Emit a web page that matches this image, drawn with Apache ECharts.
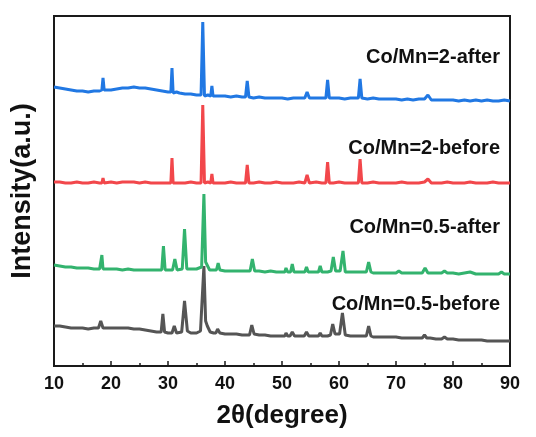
<!DOCTYPE html>
<html><head><meta charset="utf-8">
<script src="https://cdn.jsdelivr.net/npm/echarts@6/dist/echarts.min.js"></script>
<style>html,body{margin:0;padding:0;background:#fff}#c{width:536px;height:437px}</style>
</head><body><div id="c"></div>
<script>
const seriesNames = ['Co/Mn=0.5-before','Co/Mn=0.5-after','Co/Mn=2-before','Co/Mn=2-after'];
const xTicks = [10,20,30,40,50,60,70,80,90];

const co2After = [[10,279],[11,278],[12,277],[13,276],[14,275],[15,275],[16,274],[17,275],[18,275],[18.4,276],[18.6,288],[18.8,276],[19,276],[20,276],[21,277],[22,278],[23,278],[24,279],[25,278],[26,278],[27,277],[28,276],[29,275],[30,274],[30.5,274],[30.7,298],[30.9,273],[31.5,274],[32,273],[33,272],[34,272],[35,271],[35.8,271],[36.1,344],[36.4,270],[37,271],[37.5,270],[37.7,280],[37.9,270],[39,270],[40,270],[41,269],[42,270],[43,269],[43.6,269],[43.9,285],[44.2,269],[45,268],[46,269],[47,268],[48,268],[49,268],[50,268],[51,267],[52,268],[53,268],[54,268],[54.4,274],[54.8,268],[55,268],[56,268],[57,268],[57.7,268],[58.0,286],[58.3,268],[59,268],[60,268],[61,267],[62,268],[63,268],[63.4,268],[63.7,287],[64.0,268],[65,267],[66,268],[67,267],[68,267],[69,267],[70,267],[71,266],[72,267],[73,266],[74,267],[75,267],[75.6,271],[76.2,266],[77,266],[78,266],[79,266],[80,266],[81,265],[82,266],[83,265],[84,266],[85,265],[86,266],[87,265],[88,265],[89,266],[90,265]];

const co2Before = [[10,184],[11,184],[12,183],[13,183],[14,184],[15,183],[16,183],[17,184],[18,183],[18.4,183],[18.6,188],[18.8,183],[19,183],[20,184],[21,183],[22,184],[23,184],[24,184],[25,183],[26,184],[27,183],[28,183],[29,183],[30,183],[30.5,183],[30.7,208],[30.9,183],[31.5,183],[32,183],[33,183],[34,184],[35,183],[35.8,183],[36.1,261],[36.4,183],[37,184],[37.5,183],[37.7,192],[37.9,183],[39,183],[40,183],[41,184],[42,183],[43,183],[43.6,183],[43.9,201],[44.2,183],[45,183],[46,184],[47,183],[48,183],[49,184],[50,183],[51,183],[52,183],[53,184],[54,183],[54.4,191],[54.8,183],[55,183],[56,184],[57,183],[57.7,183],[58.0,204],[58.3,183],[59,183],[60,184],[61,183],[62,183],[63,183],[63.4,183],[63.7,207],[64.0,183],[65,183],[66,184],[67,183],[68,183],[69,183],[70,183],[71,184],[72,183],[73,183],[74,183],[75,184],[75.6,187],[76.2,183],[77,183],[78,183],[79,184],[80,183],[81,183],[82,183],[83,184],[84,183],[85,183],[86,183],[87,184],[88,183],[89,183],[90,183]];

const co05After = [[10,101],[11,100],[12,99],[13,99],[14,98],[15,98],[16,98],[17,97],[18,97],[18.2,97],[18.4,111],[18.6,97],[19,97],[20,97],[21,97],[22,96],[23,97],[24,96],[25,96],[26,96],[27,96],[28,96],[28.9,96],[29.2,120],[29.5,96],[30,96],[30.8,96],[31.2,107],[31.6,96],[32.5,97],[32.9,137],[33.3,97],[34,97],[35,97],[35.9,99],[36.3,172],[36.6,104],[36.9,103],[37.3,96],[38,96],[38.5,96],[38.8,103],[39.1,96],[40,95],[41,95],[42,95],[43,95],[44.4,95],[44.8,107],[45.2,95],[46,95],[47,94],[48,95],[49,94],[50,94],[50.5,94],[50.7,98],[51,94],[51.5,94],[51.8,102],[52.1,94],[53,94],[54,94],[54.3,99],[54.6,94],[55,94],[56,94],[56.4,94],[56.7,100],[57,94],[58,94],[58.6,95],[59,109],[59.4,95],[60.2,95],[60.7,115],[61.1,94],[62,94],[63,94],[64,94],[64.8,94],[65.2,104],[65.6,94],[66,93],[67,93],[68,93],[69,93],[70,93],[70.5,95],[71,93],[72,93],[73,93],[74,93],[74.6,93],[75.1,98],[75.6,93],[76,93],[77,93],[78,93],[78.5,95],[79,93],[80,93],[81,92],[82,93],[83,94],[84,92],[85,92],[86,92],[87,92],[88,92],[88.5,94],[89,92],[90,92]];

const co05Before = [[10,40],[11,40],[12,39],[13,38],[14,38],[15,38],[16,37],[17,38],[17.8,38],[18.2,45],[18.6,38],[19,38],[20,38],[21,38],[22,38],[23,38],[24,37],[25,37],[26,36],[27,35],[28,34],[28.8,34],[29.1,52],[29.4,34],[30,33],[30.7,33],[31.1,40],[31.5,33],[32.4,34],[32.9,65],[33.4,35],[34,33],[35,33],[35.7,35],[36.3,100],[36.6,45],[36.9,40],[37.4,34],[38,33],[38.4,33],[38.7,37],[39.1,33],[40,32],[41,32],[42,32],[43,31],[44.3,31],[44.7,41],[45.1,32],[46,31],[47,31],[48,30],[49,30],[50,30],[50.5,30],[50.7,33],[51,30],[51.4,30],[51.8,34],[52.2,30],[53,30],[53.9,30],[54.3,34],[54.7,30],[56,30],[56.4,30],[56.7,33],[57,30],[58,30],[58.5,31],[58.9,42],[59.3,32],[60.1,32],[60.6,53],[61.1,31],[62,30],[63,30],[64,30],[64.8,30],[65.2,40],[65.6,30],[66,29],[67,29],[68,29],[69,29],[70,29],[71,28],[72,28],[73,28],[74,28],[74.6,28],[75.0,31],[75.4,28],[76,28],[77,27],[78,27],[78.5,29],[79,27],[80,27],[81,26],[82,26],[83,26],[84,26],[85,26],[86,25],[87,25],[88,25],[89,25],[90,25]];

const colors = ['#555555','#33b36e','#f2474b','#2178e3'];
const allData = [co05Before, co05After, co2Before, co2After];
const labelY = [302, 225, 146, 55];

const chart = echarts.init(document.getElementById('c'), null, {renderer:'canvas'});
const font = 'Arial, "Liberation Sans", sans-serif';
chart.setOption({
  animation:false,
  grid:{left:54,right:26,top:16,bottom:71,show:true,borderColor:'#1a1a1a',borderWidth:2},
  xAxis:{type:'value',min:10,max:90,interval:10,
    axisLine:{show:true,lineStyle:{color:'#1a1a1a',width:2}},
    axisTick:{show:true,inside:true,length:5,lineStyle:{color:'#1a1a1a',width:1.5}},
    minorTick:{show:true,splitNumber:2,length:3,lineStyle:{color:'#1a1a1a',width:1.5}},
    splitLine:{show:false},
    axisLabel:{fontSize:18,fontWeight:'bold',color:'#111',margin:9,fontFamily:font,
      formatter:v=>xTicks.includes(v)?String(v):''},
    name:'2θ(degree)',nameLocation:'middle',nameGap:37,
    nameTextStyle:{fontSize:26,fontWeight:'bold',color:'#111',fontFamily:font}},
  yAxis:{type:'value',min:0,max:350,
    axisLine:{show:true,lineStyle:{color:'#1a1a1a',width:2}},
    axisTick:{show:false},axisLabel:{show:false},splitLine:{show:false},
    name:'Intensity(a.u.)',nameLocation:'middle',nameGap:18,
    nameTextStyle:{fontSize:27,fontWeight:'bold',color:'#111',fontFamily:font}},
  series: allData.map((d,i)=>({type:'line',name:seriesNames[i],data:d,showSymbol:false,
    lineStyle:{color:colors[i],width:3},z:2+i})),
  graphic: seriesNames.map((n,i)=>({type:'text',right:36,top:labelY[i]-8,
    style:{text:n,fontSize:20,fontWeight:'bold',fill:'#111',fontFamily:font}}))
});
</script></body></html>
